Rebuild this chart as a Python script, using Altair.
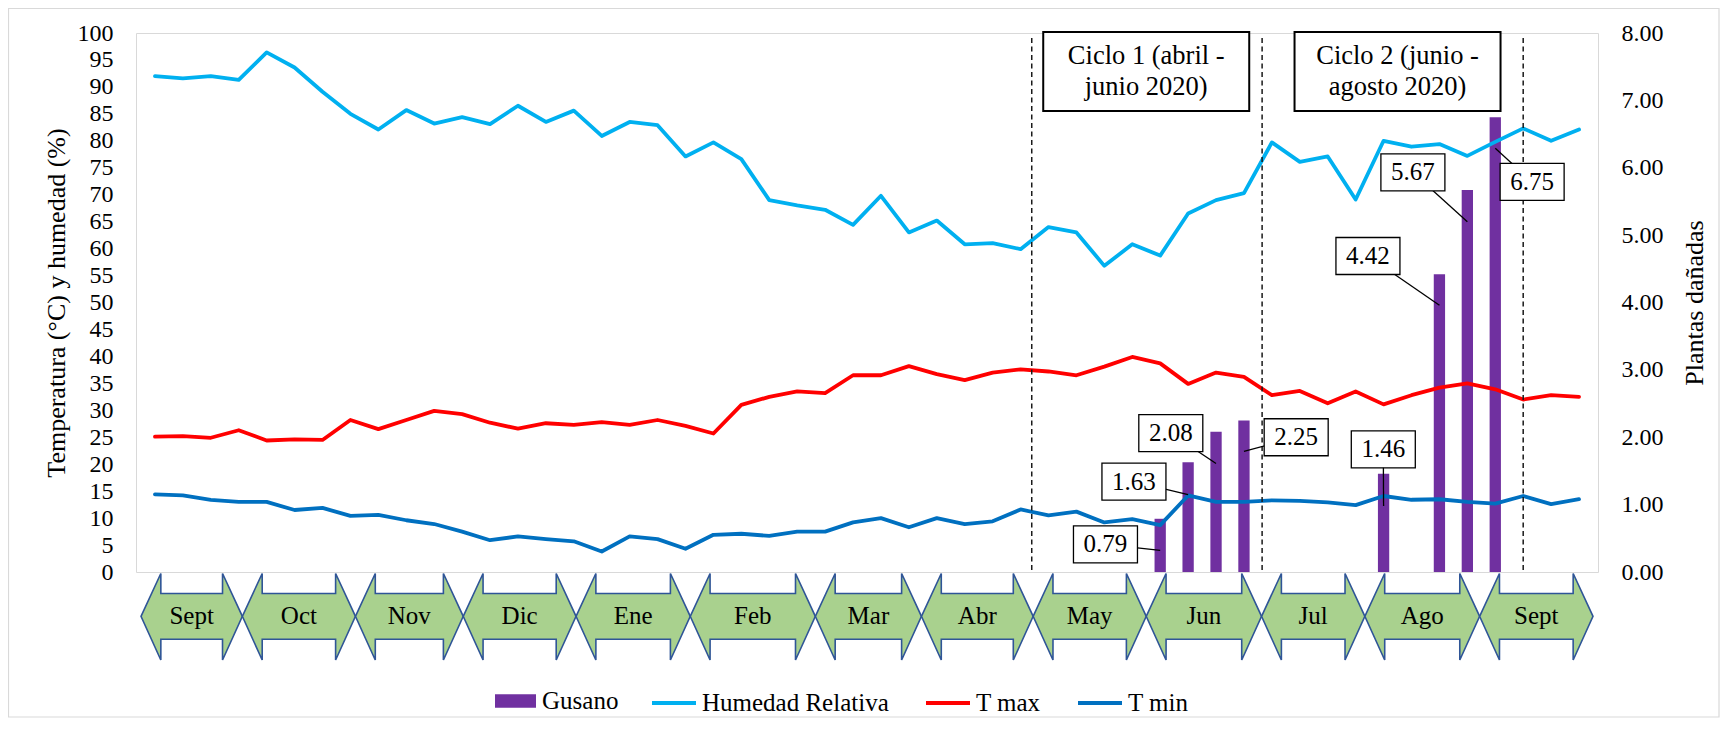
import altair as alt
import pandas as pd

# ---------------- data ----------------
weeks = list(range(1, 53))
humedad = [92.0, 91.6, 92.0, 91.3, 96.4, 93.6, 89.1, 85.0, 82.1, 85.7,
           83.2, 84.4, 83.1, 86.5, 83.5, 85.6, 80.9, 83.5, 82.9, 77.1,
           79.7, 76.6, 69.0, 68.0, 67.2, 64.4, 69.8, 63.0, 65.2, 60.8,
           61.0, 59.9, 64.0, 63.0, 56.8, 60.8, 58.7, 66.5, 69.0, 70.3,
           79.7, 76.1, 77.1, 69.1, 80.0, 78.9, 79.4, 77.2, 79.8, 82.3,
           80.0, 82.1]
t_max = [25.1, 25.2, 24.9, 26.3, 24.4, 24.6, 24.5, 28.2, 26.5, 28.2,
         29.9, 29.3, 27.7, 26.6, 27.6, 27.3, 27.8, 27.3, 28.2, 27.1,
         25.7, 31.0, 32.5, 33.5, 33.2, 36.5, 36.5, 38.2, 36.7, 35.6,
         37.0, 37.6, 37.2, 36.5, 38.1, 39.9, 38.7, 34.9, 37.0, 36.2,
         32.8, 33.6, 31.3, 33.5, 31.1, 32.8, 34.2, 35.0, 33.9, 32.0,
         32.8, 32.5]
t_min = [14.4, 14.2, 13.4, 13.0, 13.0, 11.5, 11.9, 10.4, 10.6, 9.6,
         8.9, 7.5, 5.9, 6.6, 6.1, 5.7, 3.8, 6.6, 6.1, 4.3,
         6.9, 7.1, 6.7, 7.5, 7.5, 9.2, 10.0, 8.3, 10.0, 8.9,
         9.4, 11.6, 10.5, 11.2, 9.2, 9.8, 8.7, 14.2, 13.0, 13.0,
         13.3, 13.2, 12.9, 12.4, 14.1, 13.4, 13.5, 13.0, 12.7, 14.1,
         12.6, 13.5]
series_names = ["Humedad Relativa", "T max", "T min"]

gusano_weeks = [37, 38, 39, 40, 45, 47, 48, 49]
gusano = [0.79, 1.63, 2.08, 2.25, 1.46, 4.42, 5.67, 6.75]

months = ["Sept", "Oct", "Nov", "Dic", "Ene", "Feb", "Mar", "Abr",
          "May", "Jun", "Jul", "Ago", "Sept"]
month_edges = [0.5, 4.13, 8.18, 12.04, 16.08, 20.17, 24.65, 28.45,
               32.45, 36.5, 40.63, 44.33, 48.44, 52.5]

cycle_bounds = [32.4, 40.65, 50.0]
cycle_text = ["Ciclo 1 (abril -\njunio 2020)", "Ciclo 2 (junio -\nagosto 2020)"]
cycle_text_weeks = [36.5, 45.5]

# callout anchors (week, plantas) and pointer tips
label_weeks = [35.04, 36.06, 37.38, 41.87, 44.99, 44.44, 46.05, 50.32]
label_vals = [0.41, 1.34, 2.06, 2.00, 1.82, 4.69, 5.93, 5.79]
pointer_vals = [0.32, 1.15, 1.61, 1.79, 0.98, 3.96, 5.20, 6.29]

# ---------------- styles ----------------
W, H = 1462, 539
FONT = "Liberation Serif"
C_HR, C_TMAX, C_TMIN, C_GUS = "#00b0f0", "#ff0000", "#0070c0", "#7030a0"
HEAD = 0.71
EPS = 0.001
Y_HEAD_TOP, Y_SHAFT_TOP, Y_MID, Y_SHAFT_BOT, Y_HEAD_BOT = 540.5, 560.5, 583.3, 606.3, 627.0

xscale = alt.Scale(domain=[0.5, 52.5], nice=False, zero=False)

# ---------------- tables ----------------
lines_df = pd.DataFrame({
    "week": weeks * 3,
    "valor": humedad + t_max + t_min,
    "serie": [series_names[0]] * 52 + [series_names[1]] * 52 + [series_names[2]] * 52,
})
gus_df = pd.DataFrame({"week": gusano_weeks, "plantas": gusano, "serie": "Gusano"})
call_df = pd.DataFrame({
    "lx": label_weeks, "ly": label_vals,
    "tx": gusano_weeks, "ty": pointer_vals,
    "lab": [f"{v:.2f}" for v in gusano],
})

rows = []
for m in range(len(months)):
    a, b = month_edges[m], month_edges[m + 1]
    pts = [(a, Y_MID, Y_MID), (a + HEAD, Y_HEAD_TOP, Y_HEAD_BOT),
           (a + HEAD + EPS, Y_SHAFT_TOP, Y_SHAFT_BOT),
           (b - HEAD - EPS, Y_SHAFT_TOP, Y_SHAFT_BOT),
           (b - HEAD, Y_HEAD_TOP, Y_HEAD_BOT), (b, Y_MID, Y_MID)]
    for x, y1, y2 in pts:
        rows.append({"m": m, "x": x, "y": y1, "y2": y2})
arrow_df = pd.DataFrame(rows)
month_df = pd.DataFrame({
    "mes": months,
    "mid": [(month_edges[i] + month_edges[i + 1]) / 2 for i in range(len(months))],
})
cyc_df = pd.DataFrame({"w": cycle_bounds})
cyctext_df = pd.DataFrame({"w": cycle_text_weeks, "t": cycle_text})
one_df = pd.DataFrame({"k": [0]})

# ---------------- layers ----------------
bars = alt.Chart(gus_df).mark_bar(size=11.3).encode(
    x=alt.X("week:Q", scale=xscale, axis=None),
    y=alt.Y("plantas:Q", scale=alt.Scale(domain=[0, 8], nice=False),
            axis=alt.Axis(orient="right", values=list(range(0, 9)), format=".2f",
                          grid=False, ticks=False, domain=False, labelOverlap=False,
                          labelFont=FONT, labelFontSize=24, labelColor="black",
                          labelPadding=23, title="Plantas dañadas",
                          titleFont=FONT, titleFontSize=26, titleFontWeight="normal",
                          titleColor="black", titleAngle=270, titleBaseline="top",
                          titlePadding=18)),
    fill=alt.Fill("serie:N", scale=alt.Scale(domain=["Gusano"], range=[C_GUS]),
                  legend=alt.Legend(orient="none", legendX=359, legendY=647.5,
                                    title=None, symbolType="M-1,-0.327H1V0.327H-1Z",
                                    symbolSize=1681, symbolStrokeWidth=0,
                                    labelFont=FONT, labelFontSize=25, labelColor="black",
                                    labelOffset=6, labelLimit=400)),
)

lines = alt.Chart(lines_df).mark_line(strokeWidth=3.8, strokeJoin="round", strokeCap="round").encode(
    x=alt.X("week:Q", scale=xscale,
            axis=alt.Axis(labels=False, ticks=False, grid=False, title=None,
                          domainColor="#1a1a1a", domainWidth=2.5)),
    y=alt.Y("valor:Q", scale=alt.Scale(domain=[0, 100], nice=False),
            axis=alt.Axis(orient="left", values=list(range(0, 101, 5)),
                          grid=False, ticks=False, domain=False, labelOverlap=False,
                          labelFont=FONT, labelFontSize=24, labelColor="black",
                          labelPadding=23, title="Temperatura (°C) y humedad (%)",
                          titleFont=FONT, titleFontSize=26, titleFontWeight="normal",
                          titleColor="black", titlePadding=8)),
    color=alt.Color("serie:N", scale=alt.Scale(domain=series_names, range=[C_HR, C_TMAX, C_TMIN]),
                    legend=alt.Legend(orient="none", legendX=514, legendY=646,
                                      direction="horizontal", title=None,
                                      symbolType="stroke", symbolSize=1936,
                                      symbolStrokeWidth=4, columnPadding=29,
                                      labelFont=FONT, labelFontSize=25, labelColor="black",
                                      labelOffset=4, labelLimit=400)),
    detail="serie:N",
)

# decorations: month arrows, cycle separators, cycle boxes, outer frame
arrows = alt.Chart(arrow_df).mark_area(fill="#a9d18e", stroke="#2f5597",
                                       strokeWidth=1.6, opacity=1).encode(
    x=alt.X("x:Q", scale=xscale, axis=None),
    y=alt.Y("y:Q", scale=None, stack=None),
    y2="y2:Q",
    detail="m:N",
)
month_text = alt.Chart(month_df).mark_text(font=FONT, fontSize=25, color="black",
                                           baseline="middle", align="center").encode(
    x=alt.X("mid:Q", scale=xscale, axis=None),
    y=alt.value(Y_MID),
    text="mes:N",
)
dashes = alt.Chart(cyc_df).mark_rule(color="#1a1a1a", strokeWidth=1.5, strokeDash=[5, 3.5]).encode(
    x=alt.X("w:Q", scale=xscale, axis=None),
    y=alt.value(5), y2=alt.value(H),
)
cyc_box = alt.Chart(cyctext_df).mark_point(
    shape="M-1,-0.3835H1V0.3835H-1Z", size=206 * 206, filled=True,
    fill="white", stroke="black", strokeWidth=2, opacity=1).encode(
    x=alt.X("w:Q", scale=xscale, axis=None),
    y=alt.value(38.5),
)
cyc_txt = alt.Chart(cyctext_df).mark_text(font=FONT, fontSize=26.5, color="black",
                                          lineBreak="\n", lineHeight=31,
                                          align="center", baseline="middle").encode(
    x=alt.X("w:Q", scale=xscale, axis=None),
    y=alt.value(23),
    text="t:N",
)
frame = alt.Chart(one_df).mark_rect(fillOpacity=0, stroke="#d9d9d9", strokeWidth=1.2).encode(
    x=alt.value(-127.5), x2=alt.value(W + 121),
    y=alt.value(-24.5), y2=alt.value(H + 145),
)
deco = alt.layer(frame, arrows, month_text, dashes, cyc_box, cyc_txt)

# callouts (data labels)
lead = alt.Chart(call_df).mark_rule(color="black", strokeWidth=1.3).encode(
    x=alt.X("lx:Q", scale=xscale, axis=None),
    x2="tx:Q",
    y=alt.Y("ly:Q", scale=alt.Scale(domain=[0, 8], nice=False), axis=None),
    y2="ty:Q",
)
cbox = alt.Chart(call_df).mark_point(
    shape="M-1,-0.578H1V0.578H-1Z", size=64 * 64, filled=True,
    fill="white", stroke="black", strokeWidth=1.3, opacity=1).encode(
    x=alt.X("lx:Q", scale=xscale, axis=None),
    y=alt.Y("ly:Q", scale=alt.Scale(domain=[0, 8], nice=False), axis=None),
)
ctext = alt.Chart(call_df).mark_text(font=FONT, fontSize=25, color="black",
                                     align="center", baseline="middle").encode(
    x=alt.X("lx:Q", scale=xscale, axis=None),
    y=alt.Y("ly:Q", scale=alt.Scale(domain=[0, 8], nice=False), axis=None),
    text="lab:N",
)
callouts = alt.layer(lead, cbox, ctext)

chart = alt.layer(bars, lines, deco, callouts).resolve_scale(
    y="independent", color="independent"
).properties(
    width=W, height=H,
    padding={"left": 128, "top": 25, "right": 122, "bottom": 146},
    autosize=alt.AutoSizeParams(type="none"),
    background="white",
).configure_view(stroke="#d9d9d9", strokeWidth=1)

chart.save("out.html", embed_options={"renderer": "svg", "actions": False})
